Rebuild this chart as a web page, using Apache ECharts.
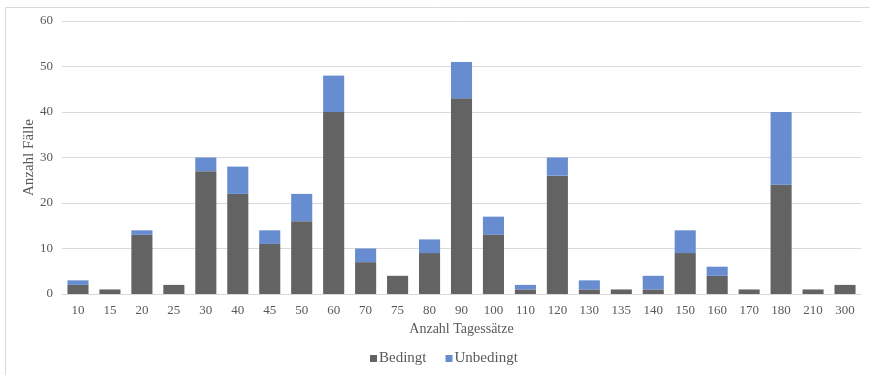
<!DOCTYPE html>
<html>
<head>
<meta charset="utf-8">
<script src="https://cdn.jsdelivr.net/npm/echarts@6/dist/echarts.min.js"></script>
<style>
  html, body { margin: 0; padding: 0; background: #fff; }
  #chart { width: 870px; height: 375px; }
</style>
</head>
<body>
<div id="chart"></div>
<script>
// Anzahl Tagessätze (Kategorien)
const categories = ['10','15','20','25','30','40','45','50','60','70','75','80','90','100','110','120','130','135','140','150','160','170','180','210','300'];
// Bedingt ausgesprochene Geldstrafen
const bedingt   = [2, 1, 13, 2, 27, 22, 11, 16, 40, 7, 4, 9, 43, 13, 1, 26, 1, 1, 1, 9, 4, 1, 24, 1, 2];
// Unbedingt ausgesprochene Geldstrafen
const unbedingt = [1, 0, 1, 0, 3, 6, 3, 6, 8, 3, 0, 3, 8, 4, 1, 4, 2, 0, 3, 5, 2, 0, 16, 0, 0];
const yTicks = { min: 0, max: 60, interval: 10 };

const FONT = '"Liberation Serif", "DejaVu Serif", serif';
const TEXT = '#595959';

const chart = echarts.init(document.getElementById('chart'), null, { renderer: 'canvas' });
chart.setOption({
  backgroundColor: '#ffffff',
  animation: false,
  textStyle: { fontFamily: FONT },
  graphic: [{
    type: 'rect',
    shape: { x: 5.5, y: 7.5, width: 900, height: 400 },
    style: { fill: 'none', stroke: '#d9d9d9', lineWidth: 1 },
    silent: true
  }],
  grid: { left: 62, right: 9, top: 21, bottom: 81, containLabel: false },
  legend: {
    bottom: 4,
    left: 365,
    itemWidth: 7,
    itemHeight: 7,
    itemGap: 19,
    icon: 'rect',
    textStyle: { fontFamily: FONT, fontSize: 15, color: TEXT, padding: [0, 0, 0, -3] },
    data: ['Bedingt', 'Unbedingt']
  },
  xAxis: {
    type: 'category',
    data: categories,
    name: 'Anzahl Tagessätze',
    nameLocation: 'middle',
    nameGap: 27,
    nameTextStyle: { fontFamily: FONT, fontSize: 14, color: TEXT },
    axisLine: { lineStyle: { color: '#d9d9d9', width: 1 } },
    axisTick: { show: false },
    axisLabel: { fontFamily: FONT, fontSize: 13, color: TEXT, margin: 10 }
  },
  yAxis: {
    type: 'value',
    min: yTicks.min,
    max: yTicks.max,
    interval: yTicks.interval,
    name: 'Anzahl Fälle',
    nameLocation: 'middle',
    nameGap: 25,
    nameMoveOverlap: false,
    nameRotate: 90,
    nameTextStyle: { fontFamily: FONT, fontSize: 15, color: TEXT },
    axisLine: { show: false },
    axisTick: { show: false },
    axisLabel: { fontFamily: FONT, fontSize: 13, color: TEXT, margin: 9 },
    splitLine: { lineStyle: { color: '#d9d9d9', width: 1 } }
  },
  series: [
    {
      name: 'Bedingt',
      type: 'bar',
      stack: 'total',
      data: bedingt,
      barCategoryGap: '34%',
      itemStyle: { color: '#636363' }
    },
    {
      name: 'Unbedingt',
      type: 'bar',
      stack: 'total',
      data: unbedingt,
      barCategoryGap: '34%',
      itemStyle: { color: '#678dd0' }
    }
  ]
});
</script>
</body>
</html>
